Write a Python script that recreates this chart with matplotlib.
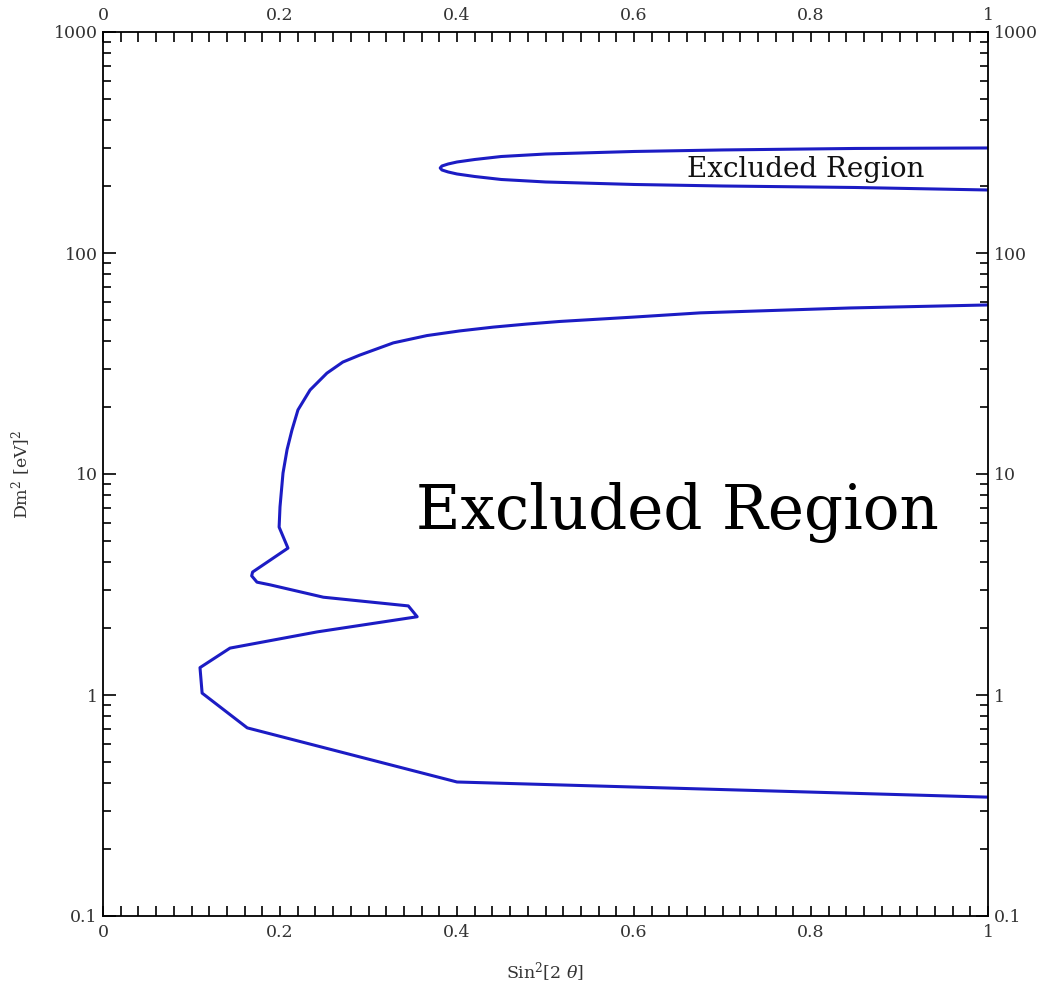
import matplotlib
matplotlib.use('Agg')
import matplotlib.pyplot as plt
from matplotlib.ticker import MultipleLocator, LogLocator, FixedLocator, NullFormatter

# main exclusion contour, traced from top-right round to bottom-right
main_x = [1.0, 0.844, 0.76, 0.675, 0.6, 0.516, 0.479, 0.441, 0.403, 0.366, 0.328, 0.29, 0.271,
          0.253, 0.234, 0.2203, 0.2135, 0.208, 0.2034, 0.200, 0.199, 0.209,
          0.169, 0.168, 0.174, 0.189, 0.249, 0.345, 0.355,
          0.242, 0.1435, 0.1096, 0.112, 0.163, 0.40, 1.0]
main_y = [58.2, 56.4, 55.0, 53.6, 51.3, 49.0, 47.7, 46.2, 44.4, 42.3, 39.2, 34.5, 32.1,
          28.6, 24.0, 19.5, 15.8, 12.9, 10.1, 7.1, 5.75, 4.62,
          3.6, 3.46, 3.24, 3.15, 2.77, 2.53, 2.26,
          1.93, 1.63, 1.33, 1.02, 0.71, 0.404, 0.345]

# upper island, top branch then bottom branch
island_x = [1.0, 0.85, 0.7, 0.6, 0.5, 0.45, 0.42, 0.40, 0.39, 0.383, 0.381,
            0.383, 0.39, 0.40, 0.42, 0.45, 0.5, 0.6, 0.7, 0.85, 1.0]
island_y = [298.7, 297.2, 292.6, 288.0, 280.5, 273.3, 264.9, 258.1, 252.8, 247.6, 242.5,
            237.5, 232.6, 227.8, 221.9, 215.1, 209.6, 204.2, 201.0, 197.9, 192.8]

x_ticks = [0, 0.2, 0.4, 0.6, 0.8, 1]
x_labels = ['0', '0.2', '0.4', '0.6', '0.8', '1']
y_ticks = [0.1, 1, 10, 100, 1000]
y_labels = ['0.1', '1', '10', '100', '1000']

plt.rcParams['font.family'] = ['DejaVu Serif']
plt.rcParams['mathtext.fontset'] = 'dejavuserif'

fig = plt.figure(figsize=(10.43, 9.98), dpi=100)
ax = fig.add_axes([103/1043, 1 - 916/998, 885/1043, 884/998])

line_col = '#1c1cc4'
ax.plot(main_x, main_y, color=line_col, lw=2.2, solid_joinstyle='round')
ax.plot(island_x, island_y, color=line_col, lw=2.2, solid_joinstyle='round')

ax.set_yscale('log')
ax.set_xlim(0, 1)
ax.set_ylim(0.1, 1000)

ax.xaxis.set_major_locator(FixedLocator(x_ticks))
ax.set_xticklabels(x_labels)
ax.xaxis.set_minor_locator(MultipleLocator(0.02))
ax.yaxis.set_major_locator(FixedLocator(y_ticks))
ax.set_yticklabels(y_labels)
ax.yaxis.set_minor_locator(LogLocator(base=10, subs=range(2, 10)))
ax.yaxis.set_minor_formatter(NullFormatter())

ax.tick_params(axis='both', which='both', direction='in', top=True, right=True,
               labeltop=True, labelright=True, labelsize=12.5, labelcolor='#333333',
               width=1.2)
ax.tick_params(axis='x', which='both', length=7, pad=6)
ax.tick_params(axis='y', which='major', length=9, pad=4)
ax.tick_params(axis='y', which='minor', length=6)
for s in ax.spines.values():
    s.set_linewidth(1.3)

ax.set_xlabel(r'Sin$^2$[2 $\theta$]', fontsize=12.5, color='#333333', labelpad=14)
ax.set_ylabel(r'Dm$^2$ [eV]$^2$', fontsize=12.5, color='#333333', labelpad=15)

ax.text(0.649, 6.7, 'Excluded Region', fontsize=44, ha='center', va='center', color='black')
ax.text(0.794, 238, 'Excluded Region', fontsize=20, ha='center', va='center', color='#111111')

fig.savefig('out.png', dpi=100)
